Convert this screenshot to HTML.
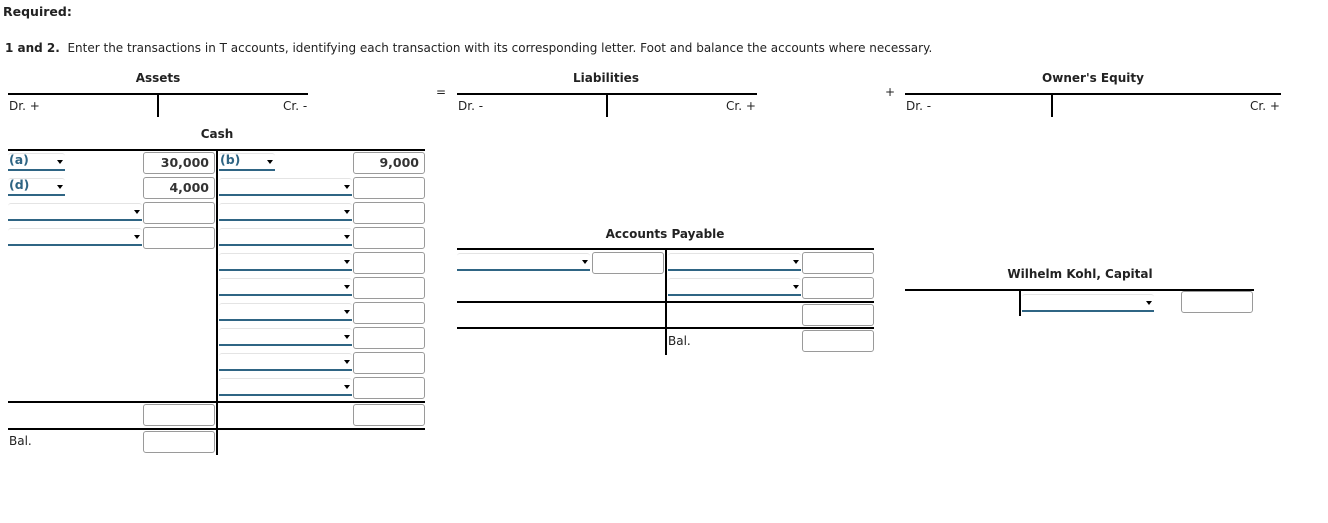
<!DOCTYPE html>
<html><head><meta charset="utf-8"><style>
body{margin:0;width:1328px;height:523px;background:#fff;position:relative;font-family:"DejaVu Sans",Verdana,sans-serif;font-size:12px;color:#222;overflow:hidden}
.a{position:absolute}
.h{position:absolute;height:2px;background:#000}
.v{position:absolute;width:2px;background:#000}
.b{position:absolute;width:70px;height:20px;border:1px solid #9a9a9a;border-radius:3px;text-align:right;line-height:20px;font-size:12.5px;font-weight:bold;color:#333}
.b span{padding-right:5px}
.s{position:absolute;height:15px;border-bottom:2px solid #2f6584;border-top:1px solid #e4e4e4;border-radius:3px 3px 0 0}
.s:after{content:"";position:absolute;right:2px;top:6px;border-left:3.5px solid transparent;border-right:3.5px solid transparent;border-top:4px solid #000}
.s i{font-style:normal;font-weight:bold;color:#2f6584;position:absolute;left:1px;top:-2px;font-size:12.5px}
.t{position:absolute;font-weight:bold;font-size:12px;transform:translateX(-50%);white-space:nowrap}
</style></head><body>
<div class="a" style="left:3px;top:4px;font-weight:bold;font-size:12.5px">Required:</div>
<div class="a" style="left:5px;top:41px;font-size:12px;white-space:nowrap"><b>1 and 2.</b>&nbsp; Enter the transactions in T accounts, identifying each transaction with its corresponding letter. Foot and balance the accounts where necessary.</div>

<div class="t" style="left:158px;top:71px">Assets</div>
<div class="t" style="left:606px;top:71px">Liabilities</div>
<div class="t" style="left:1093px;top:71px">Owner's Equity</div>
<div class="h" style="left:8px;top:93px;width:300px"></div>
<div class="h" style="left:457px;top:93px;width:300px"></div>
<div class="h" style="left:905px;top:93px;width:376px"></div>
<div class="v" style="left:157px;top:93px;height:24px"></div>
<div class="v" style="left:606px;top:93px;height:24px"></div>
<div class="v" style="left:1051px;top:93px;height:24px"></div>
<div class="a" style="left:436px;top:85px">=</div>
<div class="a" style="left:885px;top:85px">+</div>
<div class="a" style="left:9px;top:99px">Dr. +</div>
<div class="a" style="left:283px;top:99px">Cr. -</div>
<div class="a" style="left:458px;top:99px">Dr. -</div>
<div class="a" style="left:726px;top:99px">Cr. +</div>
<div class="a" style="left:906px;top:99px">Dr. -</div>
<div class="a" style="left:1250px;top:99px">Cr. +</div>

<div class="t" style="left:217px;top:127px">Cash</div>
<div class="h" style="left:8px;top:149px;width:417px"></div>
<div class="v" style="left:216px;top:149px;height:306px"></div>
<div class="s" style="left:8px;top:153px;width:57px"><i>(a)</i></div>
<div class="b" style="left:143px;top:152px"><span>30,000</span></div>
<div class="s" style="left:219px;top:153px;width:56px"><i>(b)</i></div>
<div class="b" style="left:353px;top:152px"><span>9,000</span></div>
<div class="s" style="left:8px;top:178px;width:57px"><i>(d)</i></div>
<div class="b" style="left:143px;top:177px"><span>4,000</span></div>
<div class="s" style="left:219px;top:178px;width:133px"></div>
<div class="b" style="left:353px;top:177px"></div>
<div class="s" style="left:8px;top:203px;width:134px"></div>
<div class="b" style="left:143px;top:202px"></div>
<div class="s" style="left:219px;top:203px;width:133px"></div>
<div class="b" style="left:353px;top:202px"></div>
<div class="s" style="left:8px;top:228px;width:134px"></div>
<div class="b" style="left:143px;top:227px"></div>
<div class="s" style="left:219px;top:228px;width:133px"></div>
<div class="b" style="left:353px;top:227px"></div>
<div class="s" style="left:219px;top:253px;width:133px"></div>
<div class="b" style="left:353px;top:252px"></div>
<div class="s" style="left:219px;top:278px;width:133px"></div>
<div class="b" style="left:353px;top:277px"></div>
<div class="s" style="left:219px;top:303px;width:133px"></div>
<div class="b" style="left:353px;top:302px"></div>
<div class="s" style="left:219px;top:328px;width:133px"></div>
<div class="b" style="left:353px;top:327px"></div>
<div class="s" style="left:219px;top:353px;width:133px"></div>
<div class="b" style="left:353px;top:352px"></div>
<div class="s" style="left:219px;top:378px;width:133px"></div>
<div class="b" style="left:353px;top:377px"></div>
<div class="h" style="left:8px;top:401px;width:417px"></div>
<div class="b" style="left:143px;top:404px"></div>
<div class="b" style="left:353px;top:404px"></div>
<div class="h" style="left:8px;top:428px;width:417px"></div>
<div class="b" style="left:143px;top:431px"></div>
<div class="a" style="left:9px;top:434px">Bal.</div>

<div class="t" style="left:665px;top:227px">Accounts Payable</div>
<div class="h" style="left:457px;top:248px;width:417px"></div>
<div class="v" style="left:665px;top:248px;height:107px"></div>
<div class="s" style="left:457px;top:253px;width:133px"></div>
<div class="b" style="left:592px;top:252px"></div>
<div class="s" style="left:668px;top:253px;width:133px"></div>
<div class="b" style="left:802px;top:252px"></div>
<div class="s" style="left:668px;top:278px;width:133px"></div>
<div class="b" style="left:802px;top:277px"></div>
<div class="h" style="left:457px;top:301px;width:417px"></div>
<div class="b" style="left:802px;top:304px"></div>
<div class="h" style="left:457px;top:327px;width:417px"></div>
<div class="b" style="left:802px;top:330px"></div>
<div class="a" style="left:668px;top:334px">Bal.</div>

<div class="t" style="left:1080px;top:267px">Wilhelm Kohl, Capital</div>
<div class="h" style="left:905px;top:289px;width:349px"></div>
<div class="v" style="left:1019px;top:289px;height:27px"></div>
<div class="s" style="left:1022px;top:294px;width:132px"></div>
<div class="b" style="left:1181px;top:291px"></div>
</body></html>
